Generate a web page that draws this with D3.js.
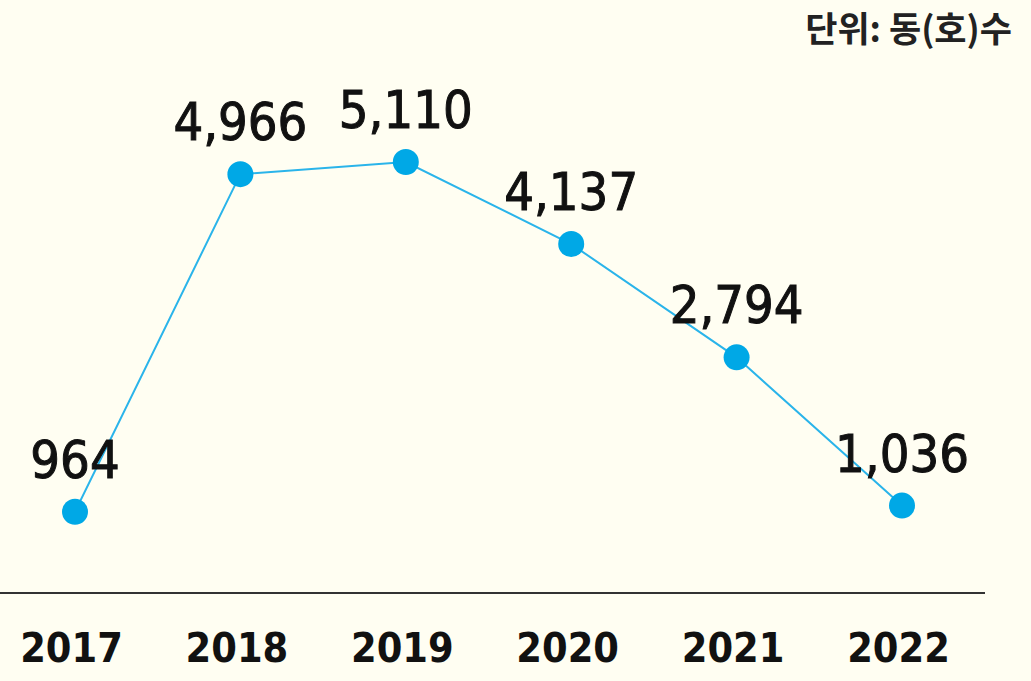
<!DOCTYPE html>
<html>
<head>
<meta charset="utf-8">
<script src="https://cdn.jsdelivr.net/npm/d3@7"></script>
<style>
  body { margin: 0; background: #fffef2; }
  svg { display: block; }
</style>
</head>
<body>
<div id="chart"></div>
<script>
// data
var years = ["2017", "2018", "2019", "2020", "2021", "2022"];
var counts = [964, 4966, 5110, 4137, 2794, 1036];
var unitLabel = "단위: 동(호)수";

var svgWidth = 1031;
var svgHeight = 681;

var svg = d3.select("#chart")
  .append("svg")
  .attr("width", svgWidth)
  .attr("height", svgHeight);

svg.append("rect")
  .attr("width", svgWidth)
  .attr("height", svgHeight)
  .attr("fill", "#fffef2");

var data = years.map(function(y, i) { return {year: y, value: counts[i]}; });

// x: point scale over years
var xScale = d3.scalePoint()
  .domain(years)
  .range([75, 902]);

// y: zero sits on the baseline
var yScale = d3.scaleLinear()
  .domain([0, 5110])
  .range([593, 162]);

// baseline
svg.append("line")
  .attr("x1", 0)
  .attr("x2", 985)
  .attr("y1", 593)
  .attr("y2", 593)
  .attr("stroke", "#333")
  .attr("stroke-width", 2);

// year labels
var xAxis = d3.axisBottom(xScale).tickSize(0).tickPadding(0);
var axisG = svg.append("g")
  .attr("transform", "translate(-4, 593)")
  .call(xAxis);
axisG.select(".domain").remove();
axisG.selectAll("text")
  .attr("y", 69)
  .attr("dy", null)
  .attr("fill", "#111")
  .style("font-family", "'DejaVu Sans Condensed', 'DejaVu Sans', sans-serif")
  .style("font-weight", "bold")
  .style("font-size", "41px");

// line
var line = d3.line()
  .x(function(d) { return xScale(d.year); })
  .y(function(d) { return yScale(d.value); });

svg.append("path")
  .datum(data)
  .attr("d", line)
  .attr("fill", "none")
  .attr("stroke", "#2ab4ea")
  .attr("stroke-width", 2);

// dots
svg.selectAll("circle.dot")
  .data(data)
  .enter()
  .append("circle")
  .attr("class", "dot")
  .attr("cx", function(d) { return xScale(d.year); })
  .attr("cy", function(d) { return yScale(d.value); })
  .attr("r", 13)
  .attr("fill", "#00a8e6");

// value labels
svg.selectAll("text.val")
  .data(data)
  .enter()
  .append("text")
  .attr("class", "val")
  .attr("x", function(d) { return xScale(d.year); })
  .attr("y", function(d) { return yScale(d.value) - 34; })
  .attr("text-anchor", "middle")
  .attr("fill", "#111")
  .attr("stroke", "#111")
  .attr("stroke-width", 1)
  .style("font-family", "'DejaVu Sans Condensed', 'DejaVu Sans', sans-serif")
  .style("font-size", "52px")
  .text(function(d) { return d3.format(",")(d.value); });

// unit label
svg.append("text")
  .attr("x", 1012)
  .attr("y", 42)
  .attr("text-anchor", "end")
  .attr("fill", "#222")
  .style("font-family", "'Noto Sans CJK KR', sans-serif")
  .style("font-weight", "bold")
  .style("font-size", "35px")
  .text(unitLabel);
</script>
</body>
</html>
